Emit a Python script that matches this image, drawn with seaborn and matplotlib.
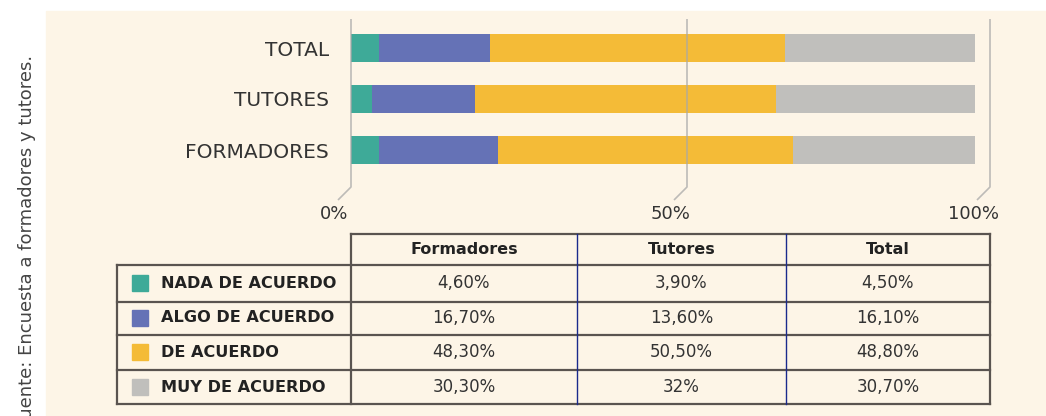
import numpy as np
import pandas as pd
import seaborn as sns
import matplotlib.pyplot as plt
from matplotlib.patches import Rectangle

# Datos de las barras (segmentos tal como se dibujan, en %)
grupos = ["TOTAL", "TUTORES", "FORMADORES"]
nada = [4.5, 3.4, 4.5]
algo = [17.8, 16.5, 19.1]
de_acuerdo = [47.2, 48.2, 47.2]
muy = [30.5, 32.1, 29.2]

# Datos de la tabla
categorias = ["NADA DE ACUERDO", "ALGO DE ACUERDO", "DE ACUERDO", "MUY DE ACUERDO"]
columnas = ["Formadores", "Tutores", "Total"]
tabla_formadores = ["4,60%", "16,70%", "48,30%", "30,30%"]
tabla_tutores = ["3,90%", "13,60%", "50,50%", "32%"]
tabla_total = ["4,50%", "16,10%", "48,80%", "30,70%"]

ticks = [0, 50, 100]
tick_labels = ["0%", "50%", "100%"]
fuente = "Fuente: Encuesta a formadores y tutores."

colores = ["#3EAA98", "#6572B6", "#F4BB37", "#C0BFBC"]
CREMA = "#FDF5E7"
TEXTO = "#333333"
BORDE = "#5A5450"
NAVY = "#1A2A8C"

W, H = 1046, 416
fig = plt.figure(figsize=(W / 100, H / 100), dpi=100)
fig.patch.set_facecolor("white")
fig.add_artist(Rectangle((46 / W, 0), 1 - 46 / W, (H - 11) / H,
                         transform=fig.transFigure, color=CREMA, zorder=0))

# 🔹 Barras apiladas
ax = fig.add_axes([351 / W, (H - 175.5) / H, 624 / W, 153 / H])
ax.set_facecolor("none")

df = pd.DataFrame({"grupo": grupos, "nada": nada, "algo": algo,
                   "de_acuerdo": de_acuerdo, "muy": muy})
segmentos = ["nada", "algo", "de_acuerdo", "muy"]
acumulado = df[segmentos].cumsum(axis=1)

for seg, color in reversed(list(zip(segmentos, colores))):
    sns.barplot(x=acumulado[seg], y=df["grupo"], color=color, orient="h",
                width=0.56, saturation=1, linewidth=0, ax=ax)

ax.set_xlim(0, 100)
ax.set_ylim(2.5, -0.5)
ax.set_xlabel("")
ax.set_ylabel("")
ax.set_xticks([])
ax.tick_params(axis="y", length=0, pad=16, labelsize=14.5, labelcolor=TEXTO)
for s in ax.spines.values():
    s.set_visible(False)

# 🔹 Capa decorativa en píxeles (rejilla 3D y tabla)
deco = fig.add_axes([0, 0, 1, 1])
deco.set_zorder(3)
deco.set_facecolor("none")
deco.set_xlim(0, W)
deco.set_ylim(H, 0)
deco.axis("off")

# rejilla de la pared del fondo (desplazada por la perspectiva)
grid_shift = [0, 24, 15]
for t, lab, shift in zip(ticks, tick_labels, grid_shift):
    x0 = ax.transData.transform((t, 0))[0] + shift
    deco.plot([x0, x0, x0 - 13], [19, 187, 200], color="#A8A8A8",
              lw=1.2, alpha=0.75, solid_capstyle="butt")
    deco.text(x0 - 17, 214, lab, ha="center", va="center",
              fontsize=13, color=TEXTO)

# tabla
col_x = [117, 351, 577, 786, 990]
row_y = [234, 265, 301.5, 334.5, 370, 404]

deco.plot([col_x[1], col_x[-1]], [row_y[0], row_y[0]], color=BORDE, lw=1.6)
for y in row_y[1:]:
    deco.plot([col_x[0], col_x[-1]], [y, y], color=BORDE, lw=1.6)
deco.plot([col_x[0], col_x[0]], [row_y[1], row_y[-1]], color=BORDE, lw=1.6)
deco.plot([col_x[1], col_x[1]], [row_y[0], row_y[-1]], color=BORDE, lw=1.6)
deco.plot([col_x[-1], col_x[-1]], [row_y[0], row_y[-1]], color=BORDE, lw=1.6)
for x in col_x[2:-1]:
    deco.plot([x, x], [row_y[0], row_y[-1]], color=NAVY, lw=1)

for j, nombre in enumerate(columnas):
    xc = (col_x[j + 1] + col_x[j + 2]) / 2
    deco.text(xc, (row_y[0] + row_y[1]) / 2, nombre, ha="center", va="center",
              fontsize=11.5, fontweight="bold", color="#222222")

valores = [tabla_formadores, tabla_tutores, tabla_total]
for i, cat in enumerate(categorias):
    yc = (row_y[i + 1] + row_y[i + 2]) / 2
    deco.add_patch(Rectangle((132, yc - 8), 16, 16, color=colores[i]))
    deco.text(161, yc, cat, ha="left", va="center", fontsize=11.6,
              fontweight="bold", color="#222222")
    for j, col in enumerate(valores):
        xc = (col_x[j + 1] + col_x[j + 2]) / 2
        deco.text(xc, yc, col[i], ha="center", va="center",
                  fontsize=12, color=TEXTO)

# fuente (texto vertical, recortado abajo como en el original)
deco.text(27, 55, fuente, rotation=90, ha="center", va="top",
          fontsize=13.0, color="#444444")

fig.savefig("out.png", dpi=100)
